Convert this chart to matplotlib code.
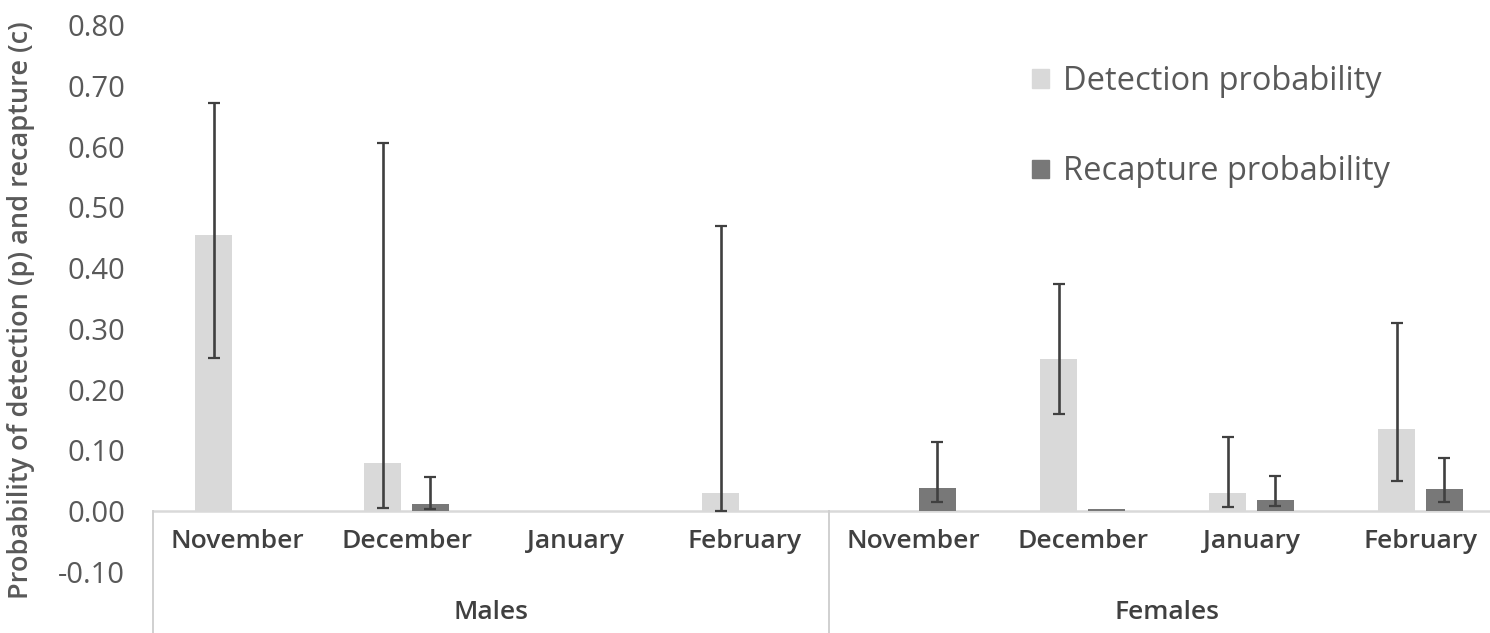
import numpy as np
import matplotlib
matplotlib.use("Agg")
import matplotlib.pyplot as plt
from matplotlib.patches import Patch

# ---- data ----
groups = ["Males", "Females"]
months = ["November", "December", "January", "February",
          "November", "December", "January", "February"]
detection = [0.455, 0.079, 0.0, 0.030, 0.0, 0.250, 0.030, 0.135]
detection_lo = [0.252, 0.005, np.nan, 0.0, np.nan, 0.160, 0.007, 0.050]
detection_hi = [0.672, 0.606, np.nan, 0.470, np.nan, 0.374, 0.122, 0.310]
recapture = [0.0, 0.012, 0.0, 0.0, 0.038, 0.004, 0.018, 0.036]
recapture_lo = [np.nan, 0.004, np.nan, np.nan, 0.015, np.nan, 0.008, 0.015]
recapture_hi = [np.nan, 0.056, np.nan, np.nan, 0.114, np.nan, 0.058, 0.087]
yticks = [-0.10, 0.0, 0.10, 0.20, 0.30, 0.40, 0.50, 0.60, 0.70, 0.80]

c_det = "#d9d9d9"
c_rec = "#787878"
c_err = "#404040"
c_txt = "#595959"

plt.rcParams['font.family'] = ['Open Sans', 'DejaVu Sans']

W, H = 1490, 633
fig = plt.figure(figsize=(W / 100, H / 100), dpi=100)
ax = fig.add_axes([153 / W, 1 - 572 / H, 1352 / W, (572 - 25) / H])

x = np.arange(len(months))
off = 0.142
bw = 0.22

det = np.array(detection)
rec = np.array(recapture)
ax.bar(x - off, det, width=bw, color=c_det, zorder=2)
ax.bar(x + off, rec, width=bw, color=c_rec, zorder=2)

def yerr(v, lo, hi):
    lo = np.array(lo, dtype=float)
    hi = np.array(hi, dtype=float)
    return np.vstack([v - lo, hi - v])

ekw = dict(fmt="none", ecolor=c_err, elinewidth=1.9, capsize=4, capthick=1.6, zorder=3)
ax.errorbar(x - off, det, yerr=yerr(det, detection_lo, detection_hi), **ekw)
ax.errorbar(x + off, rec, yerr=yerr(rec, recapture_lo, recapture_hi), **ekw)

ax.set_xlim(-0.5, len(months) - 0.5)
ax.set_ylim(-0.10, 0.80)
for s in ax.spines.values():
    s.set_visible(False)
ax.set_xticks([])
ax.set_yticks(yticks)
ax.set_yticklabels([f"{t:.2f}" for t in yticks])
ax.tick_params(axis="y", length=0, pad=20, labelsize=21, labelcolor=c_txt)

# zero axis line
ax.axhline(0, color="#d9d9d9", lw=1.8, zorder=1)

# category labels
for i, m in enumerate(months):
    ax.text(i, -0.05, m, ha="center", va="center", fontsize=19,
            color="#404040", fontweight="semibold", clip_on=False)
for g, name in enumerate(groups):
    ax.text(g * 4 + 1.5, -0.166, name, ha="center", va="center", fontsize=19,
            color="#404040", fontweight="semibold", clip_on=False)

# separators
for xs in [-0.5, 3.5]:
    ax.plot([xs, xs], [0, -0.21], color="#d0d0d0", lw=1.4, clip_on=False, zorder=1)

ax.set_ylabel("Probability of detection (p) and recapture (c)", fontsize=19.5,
              color=c_txt, fontweight="semibold")
ax.yaxis.set_label_coords(-0.087, 0.478)

handles = [Patch(color=c_det, label="Detection probability"),
           Patch(color=c_rec, label="Recapture probability")]
fig.legend(handles=handles, loc="upper left", bbox_to_anchor=(1003 / W, 1 - 36 / H),
           frameon=False, fontsize=23.5, handlelength=0.5, handleheight=0.5,
           handletextpad=0.45, labelspacing=1.75, labelcolor=c_txt)

fig.savefig("out.png", dpi=100, facecolor="white")
